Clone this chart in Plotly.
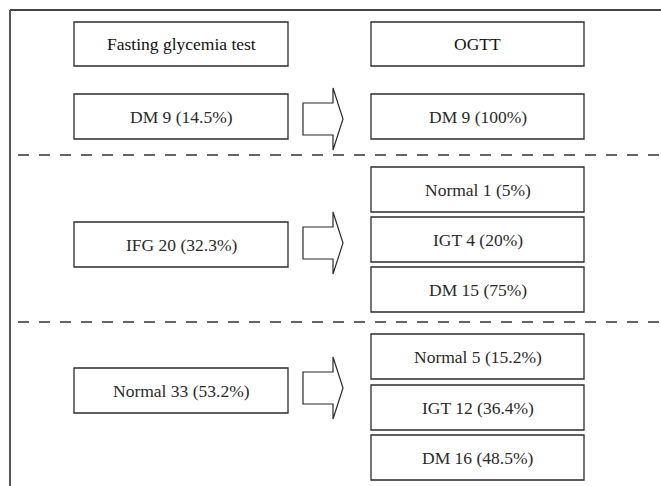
import plotly.graph_objects as go

# ---- data ----
header_labels = ["Fasting glycemia test", "OGTT"]
fasting_groups = ["DM", "IFG", "Normal"]
fasting_counts = [9, 20, 33]
fasting_pct = [14.5, 32.3, 53.2]
ogtt_groups = [["DM"], ["Normal", "IGT", "DM"], ["Normal", "IGT", "DM"]]
ogtt_counts = [[9], [1, 4, 15], [5, 12, 16]]
ogtt_pct = [[100], [5, 20, 75], [15.2, 36.4, 48.5]]

# ---- layout (pixel space) ----
W, H = 661, 486
LEFT_X = (74, 288)
RIGHT_X = (371, 584)
HEADER_Y = (22, 66)
BOX_H = 45
left_tops = [94, 222, 368]
right_tops = [[94], [167, 217, 267], [334, 385, 435]]
arrow_cy = [119, 243, 388]
divider_y = [155, 322]
ARROW_X0, ARROW_XH, ARROW_XT = 303, 333, 343
ARROW_BODY, ARROW_HEAD = 16, 31

BOX_LINE = dict(color="#2b2b2b", width=1.3)
FONT = dict(family="Liberation Serif, DejaVu Serif, serif", size=17.5, color="#2a2a2a")
HEADER_FONT = dict(family="Liberation Serif, DejaVu Serif, serif", size=17.5, color="#111111")

fig = go.Figure()
shapes = []
annotations = []


def box(x0, x1, y0, y1, text, font=FONT):
    shapes.append(dict(type="rect", xref="x", yref="y", x0=x0, x1=x1, y0=y0, y1=y1,
                       line=BOX_LINE, fillcolor="rgba(0,0,0,0)"))
    annotations.append(dict(xref="x", yref="y", x=(x0 + x1) / 2, y=(y0 + y1) / 2,
                            text=text, showarrow=False, font=font,
                            xanchor="center", yanchor="middle"))


def fmt(p):
    return f"{p:g}%"


# outer frame
shapes.append(dict(type="line", xref="x", yref="y", x0=10, x1=W + 5, y0=10, y1=10,
                   line=dict(color="#444444", width=1.8)))
shapes.append(dict(type="line", xref="x", yref="y", x0=10, x1=10, y0=10, y1=H + 5,
                   line=dict(color="#555555", width=2)))

# headers
box(LEFT_X[0], LEFT_X[1], HEADER_Y[0], HEADER_Y[1], header_labels[0], HEADER_FONT)
box(RIGHT_X[0], RIGHT_X[1], HEADER_Y[0], HEADER_Y[1], header_labels[1], HEADER_FONT)

for i, g in enumerate(fasting_groups):
    t = left_tops[i]
    box(LEFT_X[0], LEFT_X[1], t, t + BOX_H, f"{g} {fasting_counts[i]} ({fmt(fasting_pct[i])})")
    for j, og in enumerate(ogtt_groups[i]):
        rt = right_tops[i][j]
        box(RIGHT_X[0], RIGHT_X[1], rt, rt + BOX_H,
            f"{og} {ogtt_counts[i][j]} ({fmt(ogtt_pct[i][j])})")
    cy = arrow_cy[i]
    path = (f"M {ARROW_X0},{cy - ARROW_BODY} L {ARROW_XH},{cy - ARROW_BODY} "
            f"L {ARROW_XH},{cy - ARROW_HEAD} L {ARROW_XT},{cy} "
            f"L {ARROW_XH},{cy + ARROW_HEAD} L {ARROW_XH},{cy + ARROW_BODY} "
            f"L {ARROW_X0},{cy + ARROW_BODY} Z")
    shapes.append(dict(type="path", xref="x", yref="y", path=path,
                       line=dict(color="#2b2b2b", width=1.2), fillcolor="white"))

for y in divider_y:
    shapes.append(dict(type="line", xref="x", yref="y", x0=18, x1=W + 5, y0=y, y1=y,
                       line=dict(color="#333333", width=1.3, dash="11px,10px")))

fig.update_layout(
    width=W, height=H,
    margin=dict(l=0, r=0, t=0, b=0),
    paper_bgcolor="white", plot_bgcolor="white",
    xaxis=dict(range=[0, W], visible=False, fixedrange=True),
    yaxis=dict(range=[H, 0], visible=False, fixedrange=True),
    shapes=shapes, annotations=annotations, showlegend=False,
)

fig.write_html("out.html", config={"displayModeBar": False})

# remove the browser's default page margin so the figure sits at the window origin
with open("out.html", "r", encoding="utf-8") as f:
    html = f.read()
html = html.replace("<head>", "<head><style>html,body{margin:0;padding:0;overflow:hidden;}</style>", 1)
with open("out.html", "w", encoding="utf-8") as f:
    f.write(html)
